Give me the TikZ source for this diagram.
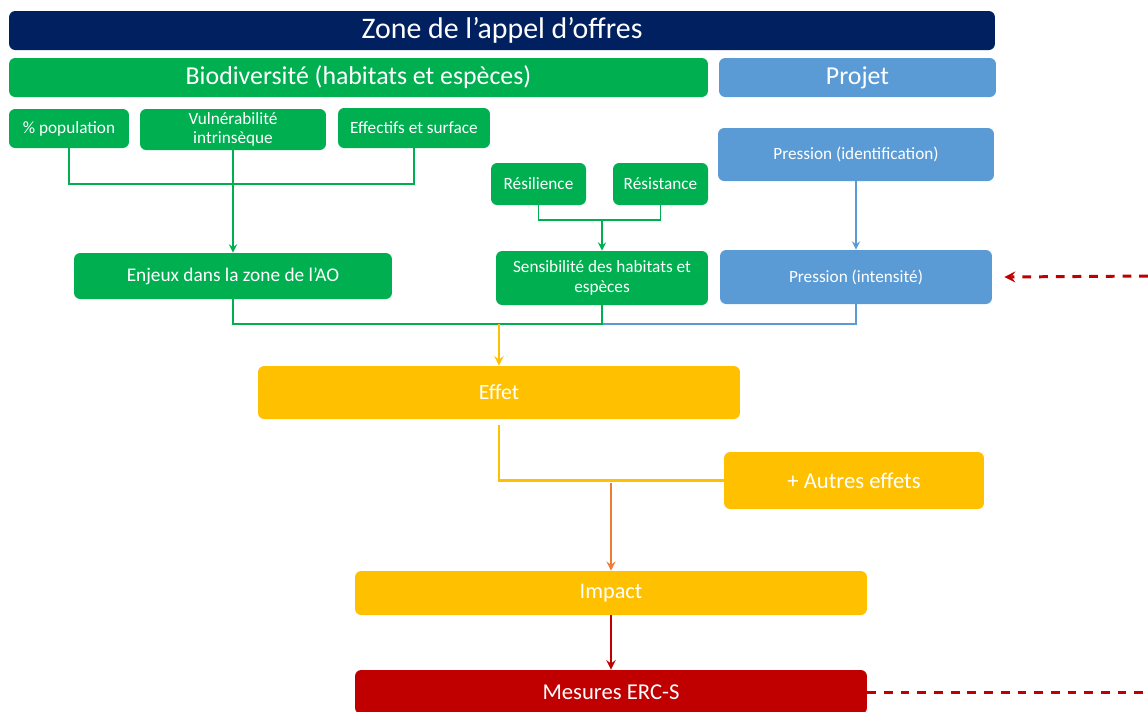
\documentclass[tikz,border=0pt]{standalone}
\usepackage{fontspec}
\setmainfont{Carlito}
\usetikzlibrary{calc}
\tikzset{>=stealth}

\definecolor{navy}{HTML}{002060}
\definecolor{vert}{HTML}{00B050}
\definecolor{bleu}{HTML}{5B9BD5}
\definecolor{jaune}{HTML}{FFC000}
\definecolor{orange}{HTML}{ED7D31}
\definecolor{rouge}{HTML}{C00000}

\tikzset{
  box/.style={rounded corners=3.5pt, text=white, align=center, inner sep=1pt},
  gbox/.style={box, fill=vert},
  bbox/.style={box, fill=bleu},
  ybox/.style={box, fill=jaune},
  gline/.style={draw=vert, line width=1.1pt},
  bline/.style={draw=bleu, line width=1.1pt},
  yline/.style={draw=jaune, line width=1.4pt},
  oline/.style={draw=orange, line width=1.3pt},
  rline/.style={draw=rouge, line width=1.4pt},
  dline/.style={draw=rouge, line width=1.7pt, dash pattern=on 5pt off 4.5pt},
}

\begin{document}
\begin{tikzpicture}[x=0.02cm, y=-0.02cm]
\useasboundingbox (0,0) rectangle (1148,711);

% bandeaux
\node[box, fill=navy, minimum width=19.72cm, minimum height=0.78cm, font=\fontsize{17}{19}\selectfont] (zone) at (502,30.5) {Zone de l’appel d’offres};
\node[gbox, minimum width=13.98cm, minimum height=0.78cm, font=\fontsize{14.7}{16}\selectfont] (bio) at (358.5,77.5) {Biodiversité (habitats et espèces)};
\node[bbox, minimum width=5.54cm, minimum height=0.78cm, font=\fontsize{14.7}{16}\selectfont] (projet) at (857.5,77.5) {Projet};

% criteres
\node[gbox, minimum width=2.4cm, minimum height=0.78cm, font=\fontsize{9.8}{11}\selectfont] (pop) at (69,128.5) {\% population};
\node[gbox, minimum width=3.72cm, minimum height=0.82cm, font=\fontsize{9.8}{11}\selectfont] (vuln) at (233,129.5) {Vulnérabilité\\intrinsèque};
\node[gbox, minimum width=3.04cm, minimum height=0.8cm, font=\fontsize{9.8}{11}\selectfont] (eff) at (414,128) {Effectifs et surface};
\node[gbox, minimum width=1.9cm, minimum height=0.84cm, font=\fontsize{9.8}{11}\selectfont] (resil) at (538.5,184) {Résilience};
\node[gbox, minimum width=1.9cm, minimum height=0.84cm, font=\fontsize{9.8}{11}\selectfont] (resist) at (660.5,184) {Résistance};
\node[bbox, minimum width=5.52cm, minimum height=1.06cm, font=\fontsize{9.8}{11}\selectfont] (pid) at (856,154.5) {Pression (identification)};

\node[gbox, minimum width=6.36cm, minimum height=0.92cm, font=\fontsize{11}{13}\selectfont] (enjeux) at (233,276) {Enjeux dans la zone de l’AO};
\node[gbox, minimum width=4.24cm, minimum height=1.08cm, font=\fontsize{9.8}{11.5}\selectfont] (sensib) at (602,278) {Sensibilité des habitats et\\espèces};
\node[bbox, minimum width=5.44cm, minimum height=1.08cm, font=\fontsize{9.8}{11}\selectfont] (pint) at (856,277) {Pression (intensité)};

% effets et impact
\node[ybox, minimum width=9.64cm, minimum height=1.06cm, font=\fontsize{12.4}{14}\selectfont] (effet) at (499,392.5) {Effet};
\node[ybox, minimum width=5.2cm, minimum height=1.14cm, font=\fontsize{12.9}{14}\selectfont] (autres) at (854,480.5) {+ Autres effets};
\node[ybox, minimum width=10.24cm, minimum height=0.88cm, font=\fontsize{12.7}{14}\selectfont] (impact) at (611,593) {Impact};
\node[box, fill=rouge, minimum width=10.24cm, minimum height=0.88cm, font=\fontsize{12.9}{14}\selectfont] (mesures) at (611,692) {Mesures ERC-S};

\coordinate (rj) at (602,220);
\coordinate (junc) at (602,324);
\coordinate (effin) at (499,324);
\coordinate (imin) at (611,483);
\coordinate (rt) at (1148,276);
\coordinate (rb) at (1148,692);

% connecteurs
\draw[gline] (pop.south) -- ++(0,36) -| (eff.south);
\draw[gline,->] (vuln.south) -- (enjeux.north);
\draw[gline] (resil.south) |- (rj) -| (resist.south);
\draw[gline,->] (rj) -- (sensib.north);
\draw[bline,->] (pid.south) -- (pint.north);
\draw[bline] (pint.south) |- (junc);
\draw[gline] (enjeux.south) |- (junc) -- (sensib.south);
\draw[yline,->] (effin) -- (effet.north);
\draw[yline] ([yshift=-0.12cm]effet.south) |- (autres.west);
\draw[oline,->] (imin) -- (impact.north);
\draw[rline,->] (impact.south) -- (mesures.north);
\draw[dline,->] (rt) -- ([xshift=0.24cm]pint.east);
\draw[dline] (mesures.east) -- (rb);
\end{tikzpicture}
\end{document}
